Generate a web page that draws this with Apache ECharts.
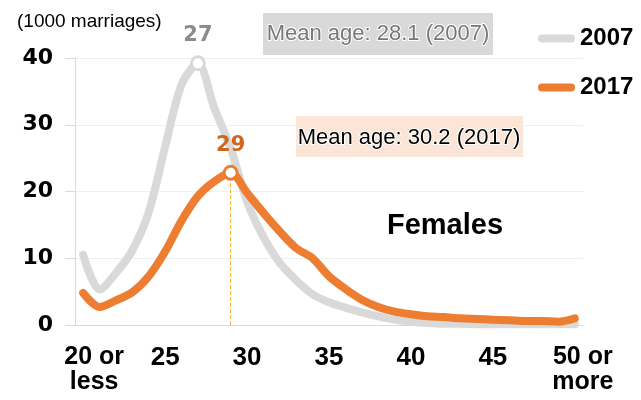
<!DOCTYPE html>
<html>
<head>
<meta charset="utf-8">
<script src="https://cdn.jsdelivr.net/npm/echarts@6/dist/echarts.min.js"></script>
<style>
html,body{margin:0;padding:0;background:#fff;}
#c{width:641px;height:400px;}
</style>
</head>
<body>
<div id="c"></div>
<script>
const categories = ['20 or\nless','21','22','23','24','25','26','27','28','29','30','31','32','33','34','35','36','37','38','39','40','41','42','43','44','45','46','47','48','49','50 or\nmore'];
const values2007 = [10.5,5.3,7.8,11.2,16.9,26.7,36.0,39.2,32.5,26.5,18.5,13.2,9.3,6.7,4.6,3.4,2.6,1.9,1.3,0.8,0.5,0.3,0.2,0.2,0.1,0.1,0.1,0.1,0.1,0.1,0.1];
const values2017 = [4.8,2.7,3.7,4.9,7.3,11.0,15.6,19.3,21.5,22.8,19.8,16.8,14.0,11.5,10.0,7.3,5.4,3.8,2.7,2.0,1.6,1.3,1.2,1.0,0.9,0.8,0.7,0.6,0.6,0.5,1.0];
const yTicks = [0,10,20,30,40];
const peak2007 = 7, peak2017 = 9;

const GRAY = '#d9d9d9', ORANGE = '#ed7d31';

function buildData(vals, peak, color, labelColor) {
  return vals.map((v, i) => i === peak ? {
    value: v,
    symbolSize: 13,
    itemStyle: {color: '#fff', borderColor: color, borderWidth: 3},
    label: {show: true, position: 'top', distance: 9, formatter: categories[i],
      color: labelColor, fontFamily: 'DejaVu Sans', fontWeight: 'bold', fontSize: 21}
  } : {value: v, symbolSize: 0});
}

const chart = echarts.init(document.getElementById('c'), null, {renderer: 'canvas'});
const pillIcon = 'path://M4,0 H33 A4,4 0 0 1 33,8 H4 A4,4 0 0 1 4,0 Z';
chart.setOption({
  animation: false,
  grid: {left: 75, right: 58, top: 58, bottom: 75},
  legend: {
    orient: 'vertical', left: 533, top: 19, itemGap: 20,
    itemWidth: 37, itemHeight: 8, icon: pillIcon,
    data: [{name: '2007'}, {name: '2017'}],
    textStyle: {fontFamily: 'Liberation Sans', fontWeight: 'bold', fontSize: 24, color: '#000', lineHeight: 29}
  },
  xAxis: {
    type: 'category', data: categories, boundaryGap: true,
    axisLine: {lineStyle: {color: GRAY, width: 1}},
    axisTick: {show: false},
    axisLabel: {
      interval: 4, margin: 20, color: '#000',
      fontFamily: 'Liberation Sans', fontWeight: 'bold', fontSize: 26, lineHeight: 25,
      formatter: function (v, i) {
        if (i === 0) return v.split('\n').map(s => '{a|' + s + '}').join('\n');
        if (i === categories.length - 1) return v.split('\n').map(s => '{b|' + s + '}').join('\n');
        return v;
      },
      rich: {
        a: {fontFamily: 'Liberation Sans', fontWeight: 'bold', fontSize: 25, lineHeight: 25, color: '#000', padding: [0, 0, 0, 22]},
        b: {fontFamily: 'Liberation Sans', fontWeight: 'bold', fontSize: 25, lineHeight: 25, color: '#000', padding: [0, 0, 0, 16]}
      }
    },
    splitLine: {show: false}
  },
  yAxis: {
    type: 'value', min: yTicks[0], max: yTicks[yTicks.length-1], interval: 10,
    axisLine: {show: true, lineStyle: {color: GRAY}},
    axisTick: {show: true, length: 10, lineStyle: {color: GRAY}},
    axisLabel: {margin: 22, color: '#000', fontFamily: 'DejaVu Sans', fontWeight: 'bold', fontSize: 22},
    splitLine: {lineStyle: {color: '#efefef', width: 1}}
  },
  series: [
    {
      name: '2007', type: 'line', smooth: 0.3, showAllSymbol: true, symbol: 'circle',
      data: buildData(values2007, peak2007, GRAY, '#8c8c8c'),
      lineStyle: {color: GRAY, width: 8, cap: 'round', join: 'round'},
      itemStyle: {color: GRAY}, z: 2
    },
    {
      name: '2017', type: 'line', smooth: 0.3, showAllSymbol: true, symbol: 'circle',
      data: buildData(values2017, peak2017, ORANGE, '#d0661c'),
      lineStyle: {color: ORANGE, width: 8, cap: 'round', join: 'round'},
      itemStyle: {color: ORANGE}, z: 3,
      markLine: {
        silent: true, symbol: 'none', label: {show: false},
        lineStyle: {color: '#f7b733', type: 'dashed', width: 1},
        data: [[{coord: [peak2017, 0]}, {coord: [peak2017, values2017[peak2017]]}]],
        z: 1
      }
    }
  ],
  graphic: [
    {type: 'text', left: 17, top: 12, style: {text: '(1000 marriages)', font: '19px "Liberation Sans"', fill: '#000'}},
    {type: 'rect', shape: {x: 263, y: 13, width: 230, height: 42}, style: {fill: '#d9d9d9'}, z: 1},
    {type: 'text', x: 378, y: 34, style: {text: 'Mean age: 28.1 (2007)', font: '22px "Liberation Sans"', fill: '#777', align: 'center', verticalAlign: 'middle', stroke: '#fff', lineWidth: 2}, z: 2},
    {type: 'rect', shape: {x: 296, y: 116, width: 227, height: 41}, style: {fill: '#fbe5d6'}, z: 1},
    {type: 'text', x: 409, y: 138, style: {text: 'Mean age: 30.2 (2017)', font: '22px "Liberation Sans"', fill: '#000', align: 'center', verticalAlign: 'middle', stroke: '#fff', lineWidth: 2}, z: 2},
    {type: 'text', x: 445, y: 226, style: {text: 'Females', font: 'bold 29px "Liberation Sans"', fill: '#000', align: 'center', verticalAlign: 'middle'}}
  ]
});
</script>
</body>
</html>
